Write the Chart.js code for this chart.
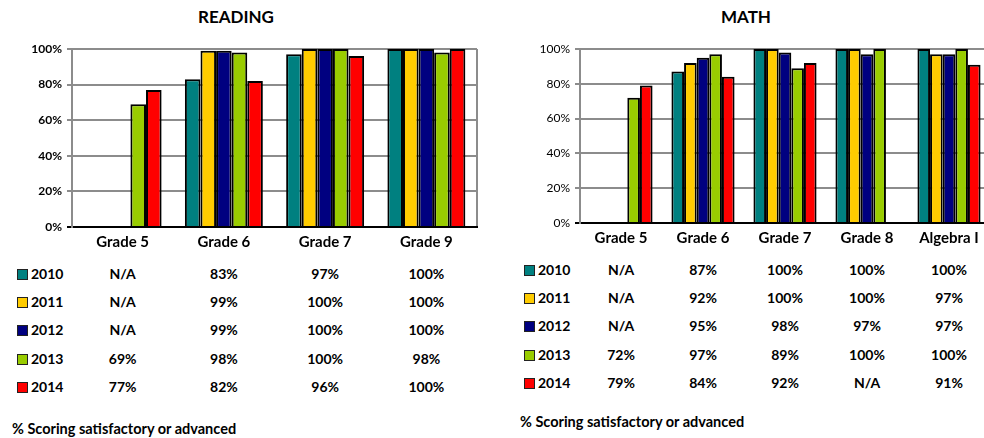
<!DOCTYPE html>
<html lang="en">
<head>
    <meta charset="UTF-8">
    <title>Reading and Math scores</title>
    <script src="https://cdn.jsdelivr.net/npm/chart.js"></script>
    <style>
        body {
            margin: 0;
            padding: 0;
            background: #fff;
            font-family: Lato, "Open Sans", sans-serif;
            width: 984px;
            height: 438px;
            overflow: hidden;
            position: relative;
        }
        .title {
            position: absolute;
            top: 6px;
            font-size: 17px;
            font-weight: bold;
            text-align: center;
            color: #000;
        }
        .cv {
            position: absolute;
            top: 30px;
        }
        .cell {
            position: absolute;
            height: 20px;
            line-height: 20px;
            font-size: 14px;
            font-weight: bold;
            color: #000;
            white-space: nowrap;
        }
        .swatch {
            display: inline-block;
            width: 9px;
            height: 9px;
            border: 1.5px solid #222;
            margin-right: 3px;
            vertical-align: -1px;
        }
        .note {
            position: absolute;
            font-size: 14.5px;
            font-weight: bold;
            color: #000;
        }
    </style>
</head>
<body>
    <div class="title" style="left:136px; width:200px;">READING</div>
    <div class="cv" style="left:0px;"><canvas id="readingChart" width="490" height="225"></canvas></div>
    <div id="readingTable"></div>
    <div class="note" style="left:12px; top:420px;">% Scoring satisfactory or advanced</div>

    <div class="title" style="left:646px; width:200px;">MATH</div>
    <div class="cv" style="left:500px;"><canvas id="mathChart" width="500" height="221"></canvas></div>
    <div id="mathTable"></div>
    <div class="note" style="left:520px; top:413px;">% Scoring satisfactory or advanced</div>

    <script>
        // data
        const years = ['2010', '2011', '2012', '2013', '2014'];
        const yearColors = ['#008080', '#FFCC00', '#000080', '#99CC00', '#FF0000'];
        const yTicks = [0, 20, 40, 60, 80, 100];

        const readingCategories = ['Grade 5', 'Grade 6', 'Grade 7', 'Grade 9'];
        const reading2010 = [null, 83, 97, 100];
        const reading2011 = [null, 99, 100, 100];
        const reading2012 = [null, 99, 100, 100];
        const reading2013 = [69, 98, 100, 98];
        const reading2014 = [77, 82, 96, 100];

        const mathCategories = ['Grade 5', 'Grade 6', 'Grade 7', 'Grade 8', 'Algebra I'];
        const math2010 = [null, 87, 100, 100, 100];
        const math2011 = [null, 92, 100, 100, 97];
        const math2012 = [null, 95, 98, 97, 97];
        const math2013 = [72, 97, 89, 100, 100];
        const math2014 = [79, 84, 92, null, 91];

        const readingSeries = [reading2010, reading2011, reading2012, reading2013, reading2014];
        const mathSeries = [math2010, math2011, math2012, math2013, math2014];

        Chart.defaults.font.family = 'Lato, "Open Sans", sans-serif';
        Chart.defaults.color = '#000';

        const gridGray = '#8c8c8c';

        function makeChart(id, categories, series, axisWidth, tickBold, padRight) {
            const ctx = document.getElementById(id).getContext('2d');
            return new Chart(ctx, {
                type: 'bar',
                data: {
                    labels: categories,
                    datasets: series.map((vals, i) => ({
                        label: years[i],
                        data: vals,
                        backgroundColor: yearColors[i],
                        borderColor: '#000',
                        borderWidth: 2,
                        categoryPercentage: 0.77,
                        barPercentage: 1.0
                    }))
                },
                options: {
                    responsive: false,
                    animation: false,
                    layout: { padding: { top: 19, right: padRight, left: 0, bottom: 0 } },
                    plugins: {
                        legend: { display: false },
                        tooltip: { enabled: false }
                    },
                    scales: {
                        x: {
                            grid: {
                                offset: true,
                                drawTicks: false,
                                lineWidth: 2,
                                color: c => c.type === 'scale' ? gridGray : 'rgba(0,0,0,0)'
                            },
                            border: { color: '#000', width: 2 },
                            ticks: {
                                font: { size: 15, weight: 'bold' },
                                padding: 6,
                                maxRotation: 0
                            },
                            afterFit: s => { s.height = 28; }
                        },
                        y: {
                            min: 0,
                            max: 100,
                            afterBuildTicks: s => { s.ticks = yTicks.map(v => ({ value: v })); },
                            grid: {
                                lineWidth: 2,
                                tickLength: 5,
                                color: c => (c.tick && c.tick.value === 0) ? '#000' : gridGray
                            },
                            border: { color: gridGray, width: 2 },
                            ticks: {
                                font: { size: 12, weight: tickBold ? 'bold' : 'normal' },
                                padding: 5,
                                callback: v => v + '%'
                            },
                            afterFit: s => { s.width = axisWidth; }
                        }
                    }
                }
            });
        }

        function buildTable(chart, containerId, pageLeft, labelLeft, rowTop, rowStep, series) {
            const box = document.getElementById(containerId);
            const xs = chart.scales.x;
            series.forEach((vals, r) => {
                const top = rowTop + r * rowStep;
                const lab = document.createElement('div');
                lab.className = 'cell';
                lab.style.left = labelLeft + 'px';
                lab.style.top = top + 'px';
                lab.innerHTML = '<span class="swatch" style="background:' + yearColors[r] + '"></span>' + years[r];
                box.appendChild(lab);
                vals.forEach((v, c) => {
                    const cell = document.createElement('div');
                    cell.className = 'cell';
                    const cx = pageLeft + xs.getPixelForValue(c);
                    cell.style.left = (cx - 40) + 'px';
                    cell.style.width = '80px';
                    cell.style.textAlign = 'center';
                    cell.style.top = top + 'px';
                    cell.textContent = v === null ? 'N/A' : v + '%';
                    box.appendChild(cell);
                });
            });
        }

        const readingChart = makeChart('readingChart', readingCategories, readingSeries, 72, true, 13);
        const mathChart = makeChart('mathChart', mathCategories, mathSeries, 80, false, 10);

        buildTable(readingChart, 'readingTable', 0, 17, 264, 28.2, readingSeries);
        buildTable(mathChart, 'mathTable', 500, 524, 260, 28.2, mathSeries);
    </script>
</body>
</html>
